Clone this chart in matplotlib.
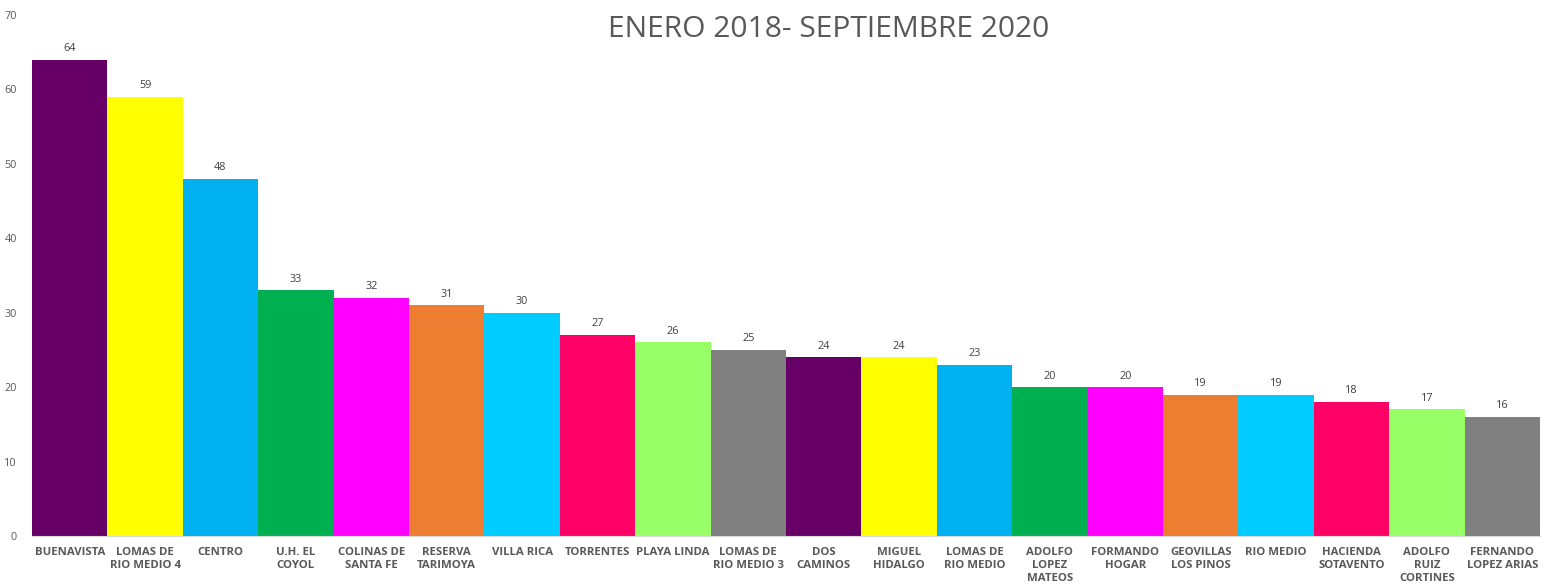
import matplotlib
matplotlib.use("Agg")
import matplotlib.pyplot as plt

categories = [
    "BUENAVISTA", "LOMAS DE\nRIO MEDIO 4", "CENTRO", "U.H. EL\nCOYOL",
    "COLINAS DE\nSANTA FE", "RESERVA\nTARIMOYA", "VILLA RICA", "TORRENTES",
    "PLAYA LINDA", "LOMAS DE\nRIO MEDIO 3", "DOS\nCAMINOS", "MIGUEL\nHIDALGO",
    "LOMAS DE\nRIO MEDIO", "ADOLFO\nLOPEZ\nMATEOS", "FORMANDO\nHOGAR",
    "GEOVILLAS\nLOS PINOS", "RIO MEDIO", "HACIENDA\nSOTAVENTO",
    "ADOLFO\nRUIZ\nCORTINES", "FERNANDO\nLOPEZ ARIAS",
]
values = [64, 59, 48, 33, 32, 31, 30, 27, 26, 25, 24, 24, 23, 20, 20, 19, 19, 18, 17, 16]
palette = ["#660066", "#FFFF00", "#00B0F0", "#00B050", "#FF00FF",
           "#ED7D31", "#00CCFF", "#FF0066", "#99FF66", "#808080"]
colors = [palette[i % len(palette)] for i in range(len(values))]

plt.rcParams['font.family'] = ['Open Sans', 'DejaVu Sans']

fig = plt.figure(figsize=(15.49, 5.85), dpi=100)
ax = fig.add_axes([32 / 1549, 49 / 585, 1508 / 1549, 521 / 585])

x = list(range(len(values)))
bars = ax.bar(x, values, width=1.0, color=colors, edgecolor='none')
ax.bar_label(bars, padding=4, fontsize=7.8, color='#404040')

ax.set_xlim(-0.5, len(values) - 0.5)
ax.set_ylim(0, 70)
ax.set_yticks(range(0, 71, 10))
ax.tick_params(axis='y', length=0, labelsize=7.8, labelcolor='#595959', pad=11)
ax.set_xticks(x)
ax.set_xticklabels(categories, fontsize=8.2, fontweight='bold', color='#595959',
                   linespacing=1.25, va='top')
ax.tick_params(axis='x', length=0, pad=8)

for side in ['top', 'right', 'left']:
    ax.spines[side].set_visible(False)
ax.spines['bottom'].set_color('#D9D9D9')

title = "ENERO 2018- SEPTIEMBRE 2020"
fig.text(0.535, 0.95, title, ha='center', va='center',
         fontsize=21.6, color='#595959')

fig.savefig("out.png", dpi=100)
